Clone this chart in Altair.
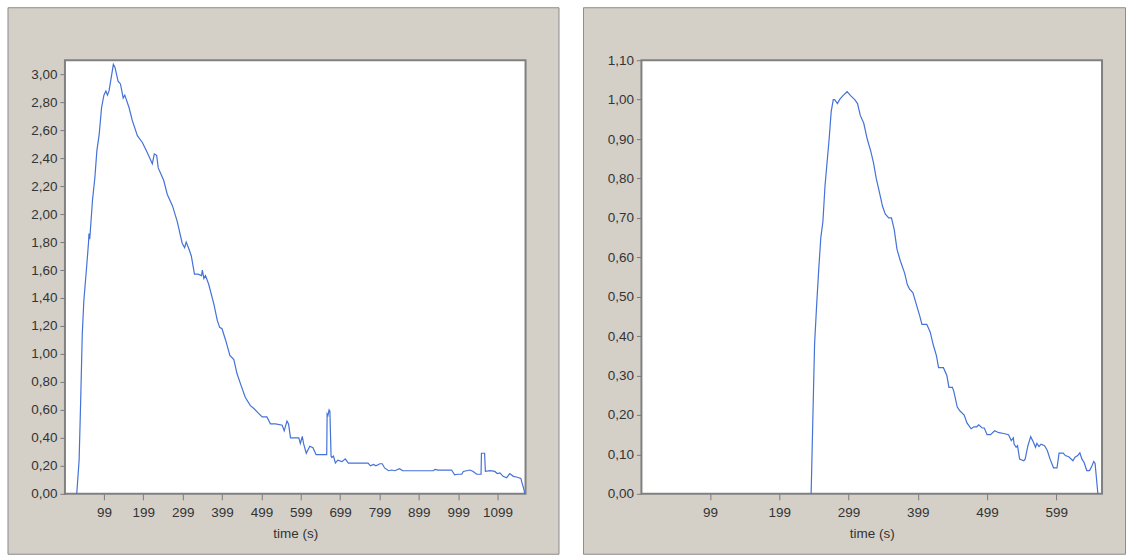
import altair as alt
import pandas as pd

# Series 1: reading over the full run (s)
left_time = [30, 36, 40, 44, 48, 55, 60, 61, 63, 65, 70, 76, 81, 87, 93, 99, 104, 108, 112, 119,
             123, 127, 135, 141, 148, 152, 163, 171, 184, 197, 209, 222, 227, 233, 237, 251, 260,
             273, 285, 298, 304, 308, 315, 321, 329, 338, 347, 349, 353, 357, 361, 365, 378, 387,
             393, 399, 408, 419, 429, 437, 448, 458, 471, 480, 490, 501, 513, 522, 535, 552, 557,
             564, 568, 573, 594, 598, 603, 606, 613, 622, 630, 638, 665, 666, 668, 671, 673, 676,
             678, 682, 687, 693, 704, 712, 720, 770, 776, 784, 790, 800, 806, 812, 822, 830, 838,
             850, 858, 936, 940, 948, 982, 990, 997, 1008, 1012, 1029, 1037, 1046, 1057, 1058, 1066,
             1068, 1080, 1092, 1098, 1105, 1113, 1122, 1130, 1139, 1147, 1158, 1166, 1168]
left_value = [0.00, 0.24, 0.67, 1.14, 1.38, 1.62, 1.80, 1.86, 1.82, 1.90, 2.10, 2.26, 2.45, 2.57,
              2.76, 2.85, 2.88, 2.85, 2.88, 3.00, 3.07, 3.05, 2.95, 2.93, 2.83, 2.85, 2.76, 2.67,
              2.56, 2.51, 2.44, 2.36, 2.43, 2.42, 2.33, 2.24, 2.14, 2.06, 1.95, 1.79, 1.76, 1.80,
              1.75, 1.70, 1.57, 1.57, 1.56, 1.60, 1.54, 1.56, 1.53, 1.50, 1.36, 1.24, 1.19, 1.18,
              1.10, 0.99, 0.96, 0.86, 0.77, 0.69, 0.63, 0.61, 0.58, 0.55, 0.55, 0.50, 0.50, 0.49,
              0.45, 0.52, 0.50, 0.40, 0.40, 0.36, 0.41, 0.36, 0.29, 0.34, 0.33, 0.28, 0.28, 0.57,
              0.56, 0.60, 0.59, 0.27, 0.26, 0.27, 0.22, 0.24, 0.23, 0.25, 0.22, 0.22, 0.20, 0.21,
              0.20, 0.215, 0.215, 0.185, 0.165, 0.17, 0.165, 0.18, 0.165, 0.165, 0.175, 0.17, 0.17,
              0.135, 0.14, 0.14, 0.16, 0.17, 0.16, 0.14, 0.14, 0.29, 0.29, 0.16, 0.165, 0.16, 0.145,
              0.15, 0.125, 0.115, 0.145, 0.125, 0.12, 0.11, 0.03, 0.00]

# Series 2: reading over the shorter run (s)
right_time = [245, 248, 250, 253, 256, 259, 262, 265, 267, 271, 274, 277, 279, 283, 286, 291, 297,
              302, 308, 312, 316, 321, 326, 331, 335, 339, 343, 348, 352, 357, 361, 365, 369, 374,
              380, 384, 387, 392, 397, 402, 405, 412, 417, 421, 426, 429, 436, 441, 444, 449, 451,
              456, 460, 466, 470, 476, 480, 484, 487, 492, 495, 499, 504, 510, 516, 523, 530, 534,
              537, 538, 541, 543, 546, 552, 554, 558, 562, 566, 569, 571, 574, 577, 582, 586, 590,
              595, 600, 603, 609, 612, 617, 623, 626, 630, 633, 636, 639, 643, 647, 650, 653, 655,
              659]
right_value = [0.00, 0.23, 0.38, 0.48, 0.57, 0.65, 0.69, 0.78, 0.82, 0.90, 0.97, 1.00, 1.00, 0.99,
               1.00, 1.01, 1.02, 1.01, 1.00, 0.99, 0.96, 0.94, 0.90, 0.87, 0.84, 0.80, 0.77, 0.73,
               0.71, 0.70, 0.70, 0.67, 0.62, 0.59, 0.56, 0.53, 0.52, 0.51, 0.48, 0.45, 0.43, 0.43,
               0.41, 0.38, 0.35, 0.32, 0.32, 0.30, 0.27, 0.27, 0.26, 0.22, 0.21, 0.20, 0.18, 0.165,
               0.17, 0.17, 0.175, 0.167, 0.167, 0.15, 0.15, 0.16, 0.155, 0.153, 0.15, 0.135, 0.142,
               0.126, 0.118, 0.122, 0.088, 0.084, 0.088, 0.122, 0.145, 0.131, 0.118, 0.128, 0.12,
               0.126, 0.122, 0.11, 0.088, 0.066, 0.066, 0.103, 0.103, 0.097, 0.094, 0.084, 0.093,
               0.097, 0.104, 0.088, 0.08, 0.059, 0.059, 0.069, 0.082, 0.077, 0.00]

left_x_ticks = [99, 199, 299, 399, 499, 599, 699, 799, 899, 999, 1099]
left_y_ticks = [round(0.2 * i, 2) for i in range(16)]
right_x_ticks = [99, 199, 299, 399, 499, 599]
right_y_ticks = [round(0.1 * i, 2) for i in range(12)]

PANEL_FILL = "#d4d0c8"
PANEL_EDGE = "#8c8c8c"
FRAME = "#808080"
LINE_BLUE = "#4472d9"
FONT = "Liberation Sans"
PLOT_W = 461
PLOT_H = 434


def panel(times, values, x_max, y_max, x_ticks, y_ticks, box):
    data = pd.DataFrame({"time": times, "value": values})
    one = pd.DataFrame({"k": [0]})
    left, right, top, bottom = box

    backdrop = alt.Chart(one).mark_rect(
        fill=PANEL_FILL, stroke=PANEL_EDGE, strokeWidth=1
    ).encode(x=alt.value(left), x2=alt.value(right), y=alt.value(top), y2=alt.value(bottom))

    plot_bg = alt.Chart(one).mark_rect(
        fill="white", stroke=FRAME, strokeWidth=2
    ).encode(x=alt.value(0), x2=alt.value(PLOT_W), y=alt.value(0), y2=alt.value(PLOT_H))

    line = alt.Chart(data).mark_line(color=LINE_BLUE, strokeWidth=1.2).encode(
        x=alt.X(
            "time:Q",
            scale=alt.Scale(domain=[0, x_max], nice=False, zero=False),
            axis=alt.Axis(values=x_ticks, format="d", title="time (s)", grid=False,
                          domain=False, tickSize=6, labelPadding=6, titlePadding=7,
                          zindex=1),
        ),
        y=alt.Y(
            "value:Q",
            scale=alt.Scale(domain=[0, y_max], nice=False),
            axis=alt.Axis(values=y_ticks, title=None, grid=False, domain=False,
                          tickSize=5, labelPadding=3, zindex=1,
                          labelExpr="replace(format(datum.value, '.2f'), '.', ',')"),
        ),
    )
    return alt.layer(backdrop, plot_bg, line).properties(width=PLOT_W, height=PLOT_H)


left_panel = panel(left_time, left_value, 1170, 3.10, left_x_ticks, left_y_ticks,
                   (-57, 494.5, -52.5, 494.5))
right_panel = panel(right_time, right_value, 665, 1.10, right_x_ticks, right_y_ticks,
                    (-58, 484.5, -52.5, 494.5))

chart = alt.hconcat(left_panel, right_panel, spacing=23).properties(
    padding={"left": 7, "top": 7, "right": 0, "bottom": 0},
    background="white",
).configure_view(stroke=None).configure_axis(
    labelFont=FONT, labelFontSize=13.5, labelColor="#333333",
    titleFont=FONT, titleFontSize=13.5, titleColor="#333333", titleFontWeight="normal",
    tickColor="#7a7a7a", tickWidth=1,
)

chart.save("out.html", embed_options={"renderer": "svg", "actions": False})
